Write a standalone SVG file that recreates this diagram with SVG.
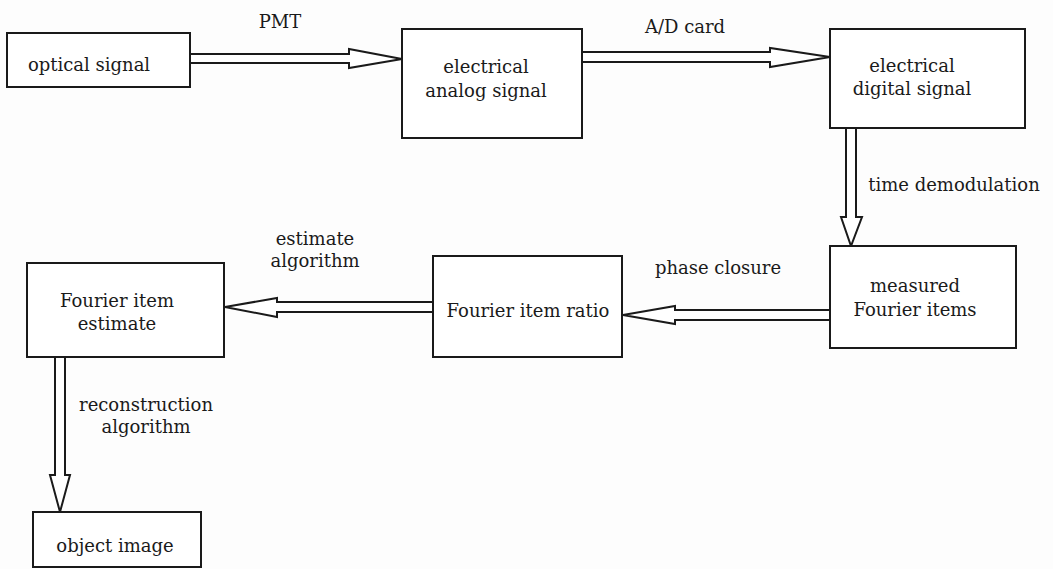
<svg xmlns="http://www.w3.org/2000/svg" width="1053" height="569" viewBox="0 0 1053 569">
<style>
.box{fill:#fff;stroke:#1a1a1a;stroke-width:2}
.arr{fill:#fff;stroke:#1a1a1a;stroke-width:2;stroke-linejoin:miter}
text{font-family:"DejaVu Serif","Liberation Serif",serif;font-size:18px;fill:#1a1a1a;text-anchor:middle}
</style>
<rect width="1053" height="569" fill="#fdfdfd"/>
<g id="connectors">
<polygon class="arr" points="190,54 349,54 349,49 402,59 349,68 349,63 190,63"/>
<text x="280" y="28">PMT</text>
<polygon class="arr" points="582,52 770,52 770,48 830,57 770,67 770,62 582,62"/>
<text x="685" y="33">A/D card</text>
<polygon class="arr" points="846,128 846,217 841,217 851,246 862,217 856,217 856,128"/>
<text x="954" y="191">time demodulation</text>
<polygon class="arr" points="830,310 675,310 675,306 623,315 675,324 675,320 830,320"/>
<text x="718" y="274">phase closure</text>
<polygon class="arr" points="433,302 277,302 277,298 225,307 277,317 277,312 433,312"/>
<text x="315" y="245">estimate</text>
<text x="315" y="267">algorithm</text>
<polygon class="arr" points="55,357 55,475 50,475 60,512 70,475 65,475 65,357"/>
<text x="146" y="411">reconstruction</text>
<text x="146" y="433">algorithm</text>
</g>
<g id="n1"><rect class="box" x="7" y="33" width="183" height="54"/><text x="89" y="71">optical signal</text></g>
<g id="n2"><rect class="box" x="402" y="29" width="180" height="109"/><text x="486" y="73">electrical</text><text x="486" y="97">analog signal</text></g>
<g id="n3"><rect class="box" x="830" y="29" width="195" height="99"/><text x="912" y="72">electrical</text><text x="912" y="95">digital signal</text></g>
<g id="n4"><rect class="box" x="830" y="246" width="186" height="102"/><text x="915" y="292">measured</text><text x="915" y="316">Fourier items</text></g>
<g id="n5"><rect class="box" x="433" y="256" width="189" height="101"/><text x="528" y="317">Fourier item ratio</text></g>
<g id="n6"><rect class="box" x="27" y="263" width="197" height="94"/><text x="117" y="307">Fourier item</text><text x="117" y="330">estimate</text></g>
<g id="n7"><rect class="box" x="33" y="512" width="168" height="55"/><text x="115" y="552">object image</text></g>
</svg>
